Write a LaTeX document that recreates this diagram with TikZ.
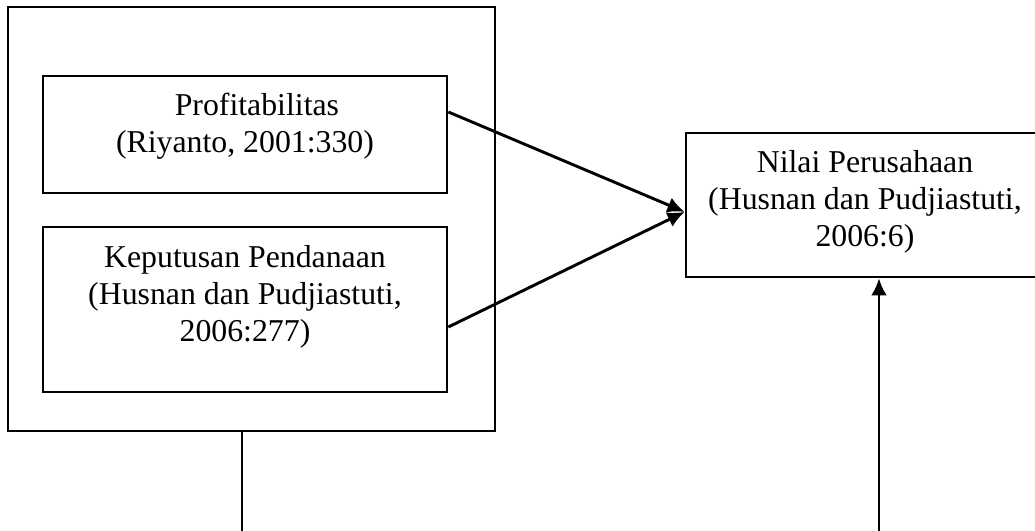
\documentclass[tikz,border=0pt]{standalone}
\usepackage{fontspec}
\setmainfont{Liberation Serif}
\usepackage{tikz}
\usetikzlibrary{positioning,arrows.meta}
\tikzset{every picture/.style={line width=1pt}}
\tikzset{kotak/.style={draw, rectangle, inner sep=0pt},
         teks/.style={align=center, inner sep=0pt, font=\fontsize{12}{14}\selectfont},
         panah/.style={->, line width=1.1pt}}

\begin{document}
\begin{tikzpicture}[x=0.3774pt, y=-0.3774pt, >={Latex[length=6.5pt,width=6pt]}]
\useasboundingbox (0,0) rectangle (1035,531);
\clip (0,0) rectangle (1035,531);
% kotak
\node[kotak, minimum width=183.8pt, minimum height=160pt] at (251.5,219) (luar) {};
\node[kotak, minimum width=152.5pt, minimum height=44.2pt] at (245,134.5) (prof) {};
\node[kotak, minimum width=152.5pt, minimum height=62.3pt] at (245,309.5) (danaan) {};
\node[kotak, minimum width=135.1pt, minimum height=54.3pt] at (865,205) (nilai) {};
% teks
\node[teks, below=6.5pt of prof.north] (tprof) {\hspace*{9pt}Profitabilitas\\(Riyanto, 2001:330)};
\node[teks, below=6.8pt of danaan.north] (tdanaan) {Keputusan Pendanaan\\(Husnan dan Pudjiastuti,\\2006:277)};
\node[teks, below=6.5pt of nilai.north] (tnilai) {Nilai Perusahaan\\(Husnan dan Pudjiastuti,\\2006:6)};
% garis
\coordinate (ujung) at ([yshift=-2.6pt]nilai.west);
\coordinate (bawahkiri) at (242,531);
\coordinate (bawahkanan) at (879,531);
\draw[panah] ([yshift=8.5pt]prof.east) -- (ujung);
\draw[panah] ([yshift=-6.6pt]danaan.east) -- (ujung);
\draw (luar.south -| bawahkiri) -- (bawahkiri);
\draw[panah] (bawahkanan) -- (bawahkanan |- nilai.south);
\end{tikzpicture}
\end{document}
